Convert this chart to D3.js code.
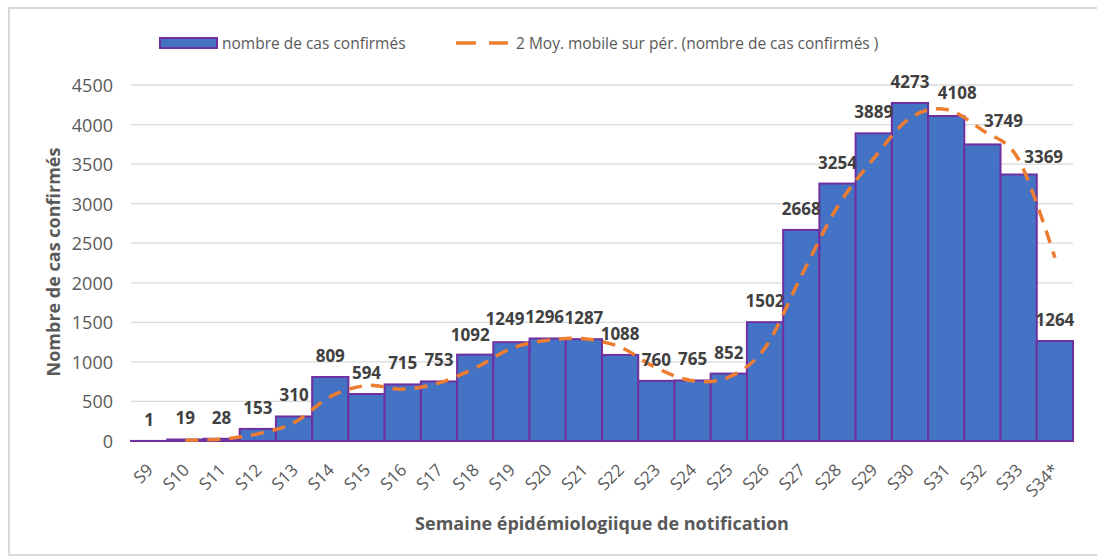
<!DOCTYPE html>
<html>
<head>
<meta charset="utf-8">
<script src="https://cdn.jsdelivr.net/npm/d3@7"></script>
<style>
  html, body { margin: 0; padding: 0; background: #ffffff; }
  svg { display: block; font-family: "Open Sans", "Noto Sans", sans-serif; }
</style>
</head>
<body>
<svg id="chart" width="1097" height="556"></svg>
<script>
// ---- data ----
const weeks = ["S9","S10","S11","S12","S13","S14","S15","S16","S17","S18","S19","S20","S21","S22","S23","S24","S25","S26","S27","S28","S29","S30","S31","S32","S33","S34*"];
const cases = [1,19,28,153,310,809,594,715,753,1092,1249,1296,1287,1088,760,765,852,1502,2668,3254,3889,4273,4108,3749,3369,1264];
const movingAvg = [null,10,23.5,90.5,231.5,559.5,701.5,654.5,734,922.5,1170.5,1272.5,1291.5,1187.5,924,762.5,808.5,1177,2085,2961,3571.5,4081,4190.5,3928.5,3559,2316.5];
const yTicks = [0,500,1000,1500,2000,2500,3000,3500,4000,4500];
const seriesNames = ["nombre de cas confirmés", "2 Moy. mobile sur pér. (nombre de cas confirmés )"];
const yTitle = "Nombre de cas confirmés";
const xTitle = "Semaine épidémiologiique de notification";

// label nudges (layout only, as placed in the source chart)
const labelNudge = { "S18": [-5, 1], "S19": [-6.5, -2], "S20": [-3, 0], "S31": [11, -2], "S32": [21, -2.5], "S33": [25, 4] };

// ---- layout ----
const svg = d3.select("#chart");
const plot = { left: 131, right: 1073, top: 85, bottom: 441 };
const barFill = "#4472C4", barStroke = "#7030A0", lineColor = "#ED7D31";
const textGray = "#595959", labelColor = "#404040", gridColor = "#d9d9d9";

// chart frame
svg.append("rect").attr("x", 9).attr("y", 8).attr("width", 1100).attr("height", 547)
  .attr("fill", "#ffffff").attr("stroke", "#d9d9d9").attr("stroke-width", 2);

const x = d3.scaleBand().domain(weeks).range([plot.left, plot.right]).padding(0);
const y = d3.scaleLinear().domain([0, 4500]).range([plot.bottom, plot.top]);

// gridlines
svg.append("g").selectAll("line").data(yTicks).join("line")
  .attr("x1", plot.left).attr("x2", plot.right)
  .attr("y1", d => y(d)).attr("y2", d => y(d))
  .attr("stroke", gridColor).attr("stroke-width", 1.3);

// y axis labels
const yAxis = d3.axisLeft(y).tickValues(yTicks).tickSize(0).tickPadding(0).tickFormat(d3.format("d"));
const yg = svg.append("g").attr("transform", `translate(${plot.left - 18},0)`).call(yAxis);
yg.select(".domain").remove();
yg.selectAll("text").attr("fill", textGray).attr("font-size", 18)
  .attr("font-family", "'Open Sans', sans-serif").attr("dy", "0.36em");

// bars
svg.append("g").selectAll("rect").data(weeks).join("rect")
  .attr("x", d => x(d))
  .attr("y", (d, i) => y(cases[i]))
  .attr("width", x.bandwidth())
  .attr("height", (d, i) => y(0) - y(cases[i]))
  .attr("fill", barFill)
  .attr("stroke", barStroke).attr("stroke-width", 2);

// moving average line
const line = d3.line()
  .defined(d => d.v !== null)
  .x(d => x(d.w) + x.bandwidth() / 2)
  .y(d => y(d.v))
  .curve(d3.curveCardinal.tension(0));
svg.append("path")
  .datum(weeks.map((w, i) => ({ w, v: movingAvg[i] })))
  .attr("d", line)
  .attr("fill", "none").attr("stroke", lineColor).attr("stroke-width", 3.5)
  .attr("stroke-dasharray", "13,9");

// data labels
svg.append("g").selectAll("text").data(weeks).join("text")
  .attr("x", (d, i) => x(d) + x.bandwidth() / 2 + (labelNudge[d] ? labelNudge[d][0] : 0))
  .attr("y", (d, i) => y(cases[i]) - 15 + (labelNudge[d] ? labelNudge[d][1] : 0))
  .attr("text-anchor", "middle")
  .attr("font-size", 17).attr("font-weight", 700)
  .attr("fill", labelColor)
  .text((d, i) => cases[i]);

// x axis tick labels
const xAxis = d3.axisBottom(x).tickSize(0).tickPadding(0);
const xg = svg.append("g").attr("transform", `translate(0,${plot.bottom})`).call(xAxis);
xg.select(".domain").remove();
xg.selectAll("text")
  .attr("fill", textGray).attr("font-size", 17)
  .attr("font-family", "'Open Sans', sans-serif")
  .attr("text-anchor", "end")
  .attr("x", 0).attr("y", 0).attr("dy", 0)
  .attr("transform", "translate(5,30) rotate(-45)");

// axis titles
svg.append("text")
  .attr("transform", `translate(53,262) rotate(-90)`)
  .attr("text-anchor", "middle").attr("dominant-baseline", "central")
  .attr("font-size", 18).attr("font-weight", 700).attr("fill", textGray)
  .text(yTitle);
svg.append("text")
  .attr("x", 602).attr("y", 523)
  .attr("text-anchor", "middle").attr("dominant-baseline", "central")
  .attr("font-size", 18).attr("font-weight", 700).attr("fill", textGray)
  .text(xTitle);

// legend
const lg = svg.append("g");
lg.append("rect").attr("x", 160).attr("y", 38).attr("width", 57).attr("height", 10)
  .attr("fill", barFill).attr("stroke", barStroke).attr("stroke-width", 2);
lg.append("text").attr("x", 222).attr("y", 43).attr("dominant-baseline", "central")
  .attr("font-size", 15.5).attr("fill", textGray).text(seriesNames[0]);
lg.append("line").attr("x1", 456).attr("x2", 508).attr("y1", 43).attr("y2", 43)
  .attr("stroke", lineColor).attr("stroke-width", 3.5).attr("stroke-dasharray", "20,13");
lg.append("text").attr("x", 516).attr("y", 43).attr("dominant-baseline", "central")
  .attr("font-size", 15.5).attr("fill", textGray).text(seriesNames[1]);
</script>
</body>
</html>
